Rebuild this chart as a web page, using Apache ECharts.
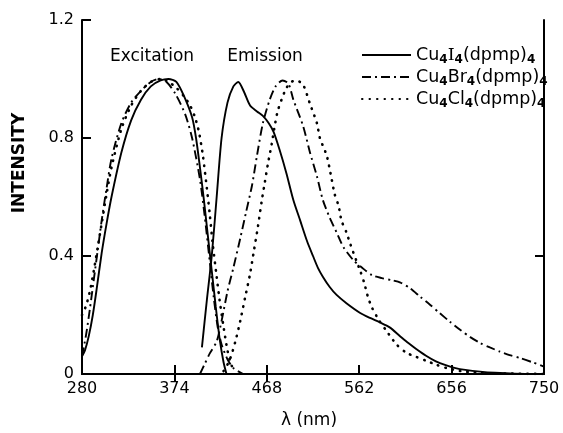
<!DOCTYPE html>
<html>
<head>
<meta charset="utf-8">
<script src="https://cdn.jsdelivr.net/npm/echarts/dist/echarts.min.js"></script>
<style>
  html, body { margin: 0; padding: 0; background: #fff; }
  #chart { width: 563px; height: 433px; }
</style>
</head>
<body>
<div id="chart"></div>
<script>
// compound names (legend)
var names = ['Cu4I4(dpmp)4', 'Cu4Br4(dpmp)4', 'Cu4Cl4(dpmp)4'];

// x axis ticks
var xTicks = [280, 374, 468, 562, 656, 750];

// Cu4I4 - excitation / emission
var iExWl  = [280, 283, 287, 291, 295, 300, 305, 310, 320, 330, 340, 350, 360, 368, 376, 384, 392, 396, 400, 404, 408, 412, 416, 420, 424, 427];
var iExVal = [0.06, 0.08, 0.13, 0.2, 0.29, 0.41, 0.51, 0.6, 0.75, 0.86, 0.93, 0.975, 0.995, 1.0, 0.99, 0.94, 0.87, 0.8, 0.7, 0.59, 0.47, 0.35, 0.23, 0.12, 0.04, 0.0];
var iEmWl  = [402, 407, 412, 417, 422, 428, 434, 439, 445, 451, 458, 464, 470, 475, 481, 488, 495, 502, 509, 515, 520, 525, 532, 539, 549, 563, 573, 583, 593, 603, 612, 620, 630, 640, 650, 660, 670, 685, 700, 720, 750];
var iEmVal = [0.09, 0.25, 0.4, 0.6, 0.8, 0.92, 0.975, 0.99, 0.955, 0.91, 0.89, 0.875, 0.85, 0.82, 0.76, 0.68, 0.59, 0.52, 0.45, 0.4, 0.36, 0.33, 0.295, 0.268, 0.24, 0.207, 0.19, 0.175, 0.158, 0.13, 0.105, 0.085, 0.062, 0.043, 0.03, 0.02, 0.014, 0.008, 0.004, 0.001, 0.0];

// Cu4Br4 - excitation / emission
var brExWl  = [280, 284, 288, 292, 296, 300, 305, 310, 320, 330, 340, 350, 358, 366, 375, 385, 392, 400, 405, 410, 414, 418, 422, 428, 434, 444];
var brExVal = [0.06, 0.13, 0.22, 0.32, 0.42, 0.52, 0.63, 0.73, 0.85, 0.92, 0.96, 0.99, 1.0, 0.99, 0.95, 0.88, 0.8, 0.66, 0.53, 0.38, 0.26, 0.16, 0.1, 0.05, 0.02, 0.0];
var brEmWl  = [400, 405, 410, 417, 422, 428, 434, 441, 447, 453, 458, 464, 471, 477, 484, 490, 495, 505, 512, 519, 525, 532, 539, 546, 556, 565, 575, 585, 595, 604, 614, 624, 634, 644, 654, 665, 675, 685, 695, 705, 715, 726, 738, 750];
var brEmVal = [0.0, 0.035, 0.07, 0.11, 0.18, 0.28, 0.36, 0.46, 0.55, 0.64, 0.74, 0.85, 0.93, 0.975, 0.995, 0.985, 0.93, 0.84, 0.75, 0.67, 0.59, 0.53, 0.48, 0.43, 0.386, 0.36, 0.335, 0.325, 0.318, 0.31, 0.29, 0.262, 0.235, 0.206, 0.178, 0.149, 0.125, 0.105, 0.09, 0.076, 0.064, 0.054, 0.04, 0.025];

// Cu4Cl4 - excitation / emission
var clExWl  = [280, 284, 288, 292, 296, 300, 305, 310, 320, 330, 340, 350, 360, 368, 376, 384, 390, 395, 399, 403, 407, 410, 413, 417, 420, 424, 428, 432, 436];
var clExVal = [0.2, 0.23, 0.28, 0.35, 0.43, 0.51, 0.61, 0.7, 0.83, 0.91, 0.96, 0.99, 1.0, 0.99, 0.97, 0.94, 0.91, 0.87, 0.82, 0.74, 0.63, 0.54, 0.44, 0.33, 0.25, 0.16, 0.08, 0.03, 0.01];
var clEmWl  = [424, 430, 436, 441, 446, 451, 455, 459, 463, 466, 469, 473, 476, 479, 483, 488, 493, 498, 505, 512, 519, 522, 529, 534, 537, 541, 544, 549, 553, 559, 563, 567, 571, 575, 582, 590, 600, 610, 620, 630, 640, 651, 665, 680, 700, 750];
var clEmVal = [0.01, 0.045, 0.11, 0.18, 0.26, 0.34, 0.42, 0.5, 0.59, 0.65, 0.71, 0.78, 0.84, 0.89, 0.93, 0.97, 0.99, 0.995, 0.98, 0.915, 0.85, 0.8, 0.74, 0.66, 0.61, 0.57, 0.52, 0.48, 0.44, 0.385, 0.35, 0.31, 0.26, 0.225, 0.183, 0.145, 0.1, 0.072, 0.058, 0.045, 0.032, 0.02, 0.01, 0.005, 0.002, 0.0];

var FONT = 'DejaVu Sans';
var chart = echarts.init(document.getElementById('chart'));

function pairs(xs, ys) {
	return xs.map(function(x, i) { return [x, ys[i]]; });
}

var styles = [
	{ color: '#000', width: 1.9, type: 'solid' },
	{ color: '#000', width: 1.9, type: [9, 4, 2, 4] },
	{ color: '#000', width: 2.6, type: [0.5, 7], cap: 'round' }
];

function line(name, data, style) {
	return {
		name: name,
		type: 'line',
		data: data,
		symbol: 'none',
		showSymbol: false,
		smooth: 0.25,
		silent: true,
		itemStyle: { color: '#000' },
		lineStyle: style
	};
}

// rich label: Cu{4}X{4}(dpmp){4}
function legendLabel(name) {
	var m = name.match(/^Cu4(I|Br|Cl)4\(dpmp\)4$/);
	var hal = m[1] == 'I' ? '{ser|I}' : '{t|' + m[1] + '}';
	return '{t|Cu}{s|4}' + hal + '{s|4}{t|(dpmp)}{s|4}';
}

var axisLine = { lineStyle: { color: '#000', width: 2 } };

var option = {
	backgroundColor: '#fff',
	animation: false,
	grid: { left: 82, right: 19, top: 20, bottom: 59, containLabel: false },
	legend: {
		orient: 'vertical',
		left: 361,
		top: 46,
		padding: 0,
		itemGap: 2,
		itemWidth: 49,
		itemHeight: 12,
		data: names,
		selectedMode: false,
		itemStyle: { opacity: 0 },
		formatter: legendLabel,
		textStyle: {
			color: '#000',
			rich: {
				t: { fontFamily: FONT, fontSize: 17.5, color: '#000', lineHeight: 22, verticalAlign: 'middle' },
				ser: { fontFamily: 'DejaVu Serif', fontSize: 17.5, color: '#000', lineHeight: 22, verticalAlign: 'middle' },
				s: { fontFamily: FONT, fontSize: 12, color: '#000', fontWeight: 'bold', verticalAlign: 'bottom', lineHeight: 22 }
			}
		}
	},
	xAxis: [{
		type: 'value',
		position: 'bottom',
		min: xTicks[0],
		max: xTicks[xTicks.length - 1],
		interval: xTicks[1] - xTicks[0],
		axisLine: axisLine,
		axisTick: { inside: true, length: 9, lineStyle: { color: '#000', width: 2 } },
		axisLabel: { color: '#000', fontFamily: FONT, fontSize: 16, margin: 7 },
		splitLine: { show: false }
	}, {
		type: 'value',
		position: 'top',
		min: xTicks[0],
		max: xTicks[xTicks.length - 1],
		axisLine: axisLine,
		axisTick: { inside: true, length: 8, customValues: [xTicks[1], xTicks[2]], lineStyle: { color: '#000', width: 2 } },
		axisLabel: { show: false },
		splitLine: { show: false }
	}],
	yAxis: [{
		type: 'value',
		position: 'left',
		min: 0,
		max: 1.2,
		interval: 0.4,
		axisLine: axisLine,
		axisTick: { inside: true, length: 9, lineStyle: { color: '#000', width: 2 } },
		axisLabel: { color: '#000', fontFamily: FONT, fontSize: 16, margin: 8 },
		splitLine: { show: false }
	}, {
		type: 'value',
		position: 'right',
		min: 0,
		max: 1.2,
		axisLine: axisLine,
		axisTick: { inside: true, length: 9, customValues: [0.4], lineStyle: { color: '#000', width: 2 } },
		axisLabel: { show: false },
		splitLine: { show: false }
	}],
	graphic: [{
		type: 'text',
		x: 20, y: 163,
		rotation: Math.PI / 2,
		style: { text: 'INTENSITY', fontFamily: FONT, fontSize: 17, fontWeight: 'bold', fill: '#000', align: 'center', verticalAlign: 'middle' }
	}, {
		type: 'text',
		x: 152, y: 57,
		style: { text: 'Excitation', fontFamily: FONT, fontSize: 17, fill: '#000', align: 'center', verticalAlign: 'middle' }
	}, {
		type: 'text',
		x: 265, y: 57,
		style: { text: 'Emission', fontFamily: FONT, fontSize: 17, fill: '#000', align: 'center', verticalAlign: 'middle' }
	}, {
		type: 'text',
		x: 309, y: 421,
		style: { text: 'λ (nm)', fontFamily: FONT, fontSize: 17, fill: '#000', align: 'center', verticalAlign: 'middle' }
	}],
	series: [
		line(names[0], pairs(iExWl, iExVal), styles[0]),
		line(names[1], pairs(brExWl, brExVal), styles[1]),
		line(names[2], pairs(clExWl, clExVal), styles[2]),
		line(names[0], pairs(iEmWl, iEmVal), styles[0]),
		line(names[1], pairs(brEmWl, brEmVal), styles[1]),
		line(names[2], pairs(clEmWl, clEmVal), styles[2])
	]
};

chart.setOption(option);
</script>
</body>
</html>
